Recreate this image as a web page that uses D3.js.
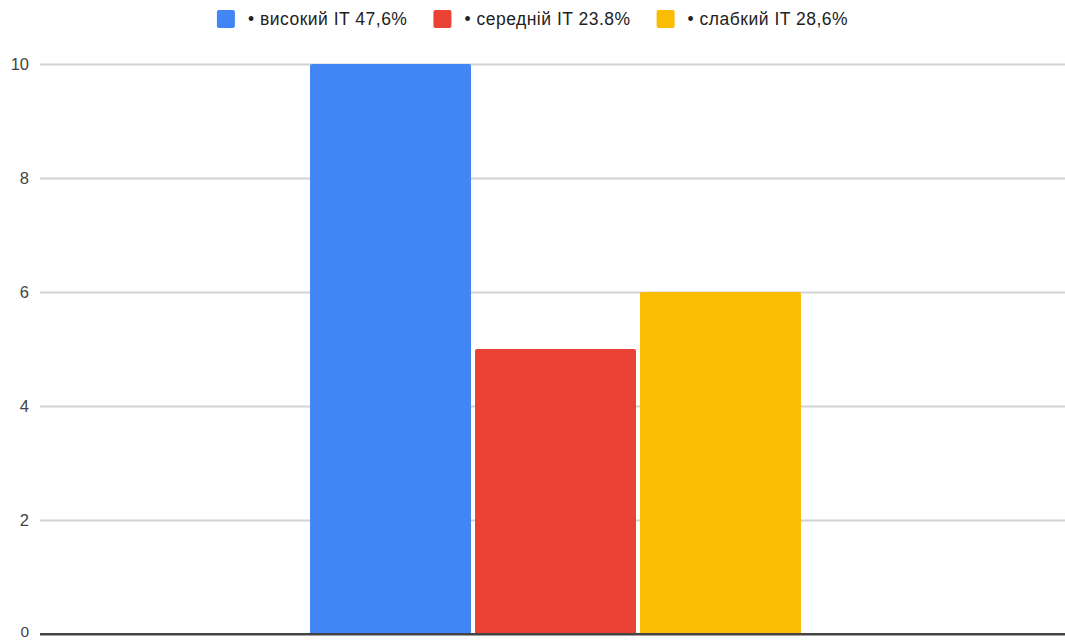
<!DOCTYPE html>
<html>
<head>
<meta charset="utf-8">
<script src="https://cdn.jsdelivr.net/npm/d3@7"></script>
<style>
  html, body { margin: 0; padding: 0; background: #fff; }
  svg { display: block; font-family: "Liberation Sans", Arial, sans-serif; }
</style>
</head>
<body>
<svg id="chart" width="1065" height="641"></svg>
<script>
// Single category, three groups of IT level
const categories = [""];
const seriesNames = ["• високий IT 47,6%", "• середній IT 23.8%", "• слабкий IT 28,6%"];
const seriesValues = [10, 5, 6];
const seriesColors = ["#4285f4", "#ea4335", "#fbbc04"];
const yTicks = [0, 2, 4, 6, 8, 10];

const svg = d3.select("#chart");
const W = 1065, H = 641;
const margin = { top: 64, right: -6, bottom: 7, left: 40 };

const x0 = d3.scaleBand()
  .domain(categories)
  .range([margin.left, W - margin.right])
  .paddingInner(0)
  .paddingOuter(0.55);

const x1 = d3.scaleBand()
  .domain(seriesNames)
  .range([0, x0.bandwidth()])
  .paddingInner(0.024)
  .paddingOuter(0);

const y = d3.scaleLinear()
  .domain([0, 10])
  .range([H - margin.bottom, margin.top]);

// Horizontal gridlines with tick labels
const yAxis = d3.axisLeft(y)
  .tickValues(yTicks)
  .tickSize(-(W - margin.left))
  .tickPadding(11)
  .tickFormat(d3.format("d"));

const gy = svg.append("g")
  .attr("transform", `translate(${margin.left},0)`)
  .call(yAxis);
gy.select(".domain").remove();
gy.selectAll(".tick line")
  .attr("stroke", "#d3d3d3")
  .attr("stroke-width", 2);
gy.selectAll(".tick text")
  .attr("fill", "#444")
  .attr("font-size", 16.5);
// the zero label sits close to the bottom edge; lift it slightly so it stays whole
gy.selectAll(".tick").filter(d => d === 0).select("text")
  .attr("font-size", 15.5)
  .attr("dy", "0.15em");
gy.selectAll(".tick").filter(d => d === 0).select("line")
  .attr("stroke", "#444").attr("stroke-width", 2);

// Bars
const data = seriesNames.map((name, i) => ({ cat: categories[0], name, value: seriesValues[i], color: seriesColors[i] }));
svg.append("g")
  .selectAll("path")
  .data(data)
  .join("path")
  .attr("fill", d => d.color)
  .attr("d", d => {
    const xl = x0(d.cat) + x1(d.name);
    const w = x1.bandwidth();
    const yt = y(d.value);
    const yb = y(0) - 1;
    const r = 2;
    return `M${xl},${yb} V${yt + r} Q${xl},${yt} ${xl + r},${yt} H${xl + w - r} Q${xl + w},${yt} ${xl + w},${yt + r} V${yb} Z`;
  });

// Redraw baseline on top of the bars
svg.append("line")
  .attr("x1", margin.left).attr("x2", W)
  .attr("y1", y(0)).attr("y2", y(0))
  .attr("stroke", "#444").attr("stroke-width", 2);

// Legend, centered along the top
const legend = svg.append("g");
const items = legend.selectAll("g")
  .data(data)
  .join("g");
items.append("rect")
  .attr("width", 18).attr("height", 18)
  .attr("rx", 2)
  .attr("y", 10)
  .attr("fill", d => d.color);
items.append("text")
  .attr("x", 31)
  .attr("y", 25)
  .attr("font-size", 17.5)
  .attr("letter-spacing", 0.5)
  .attr("fill", "#222")
  .text(d => d.name);

let offset = 0;
const positions = [];
items.each(function () {
  positions.push(offset);
  const tw = d3.select(this).select("text").node().getComputedTextLength();
  offset += 31 + tw + 26;
});
const total = offset - 26;
const startX = (W - total) / 2;
items.attr("transform", (d, i) => `translate(${startX + positions[i]},0)`);
</script>
</body>
</html>
